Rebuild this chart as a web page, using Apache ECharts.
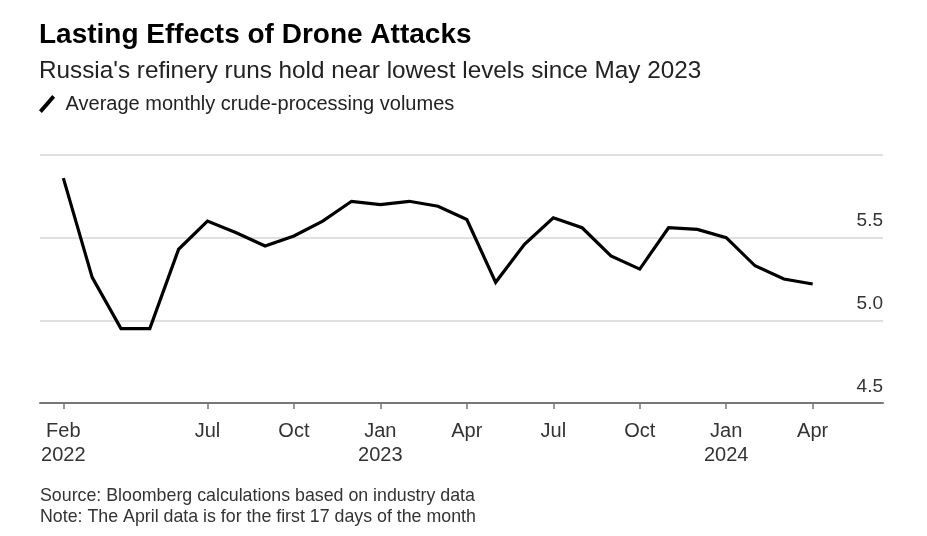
<!DOCTYPE html>
<html>
<head>
<meta charset="utf-8">
<script src="https://cdn.jsdelivr.net/npm/echarts@6/dist/echarts.min.js"></script>
<style>
html,body{margin:0;padding:0;background:#fff;}
#chart{width:927px;height:536px;}
</style>
</head>
<body>
<div id="chart"></div>
<script>
// Months from Feb 2022 (index 0) to Apr 2024 (index 26)
const months = ["2022-02","2022-03","2022-04","2022-05","2022-06","2022-07","2022-08","2022-09","2022-10","2022-11","2022-12",
  "2023-01","2023-02","2023-03","2023-04","2023-05","2023-06","2023-07","2023-08","2023-09","2023-10","2023-11","2023-12",
  "2024-01","2024-02","2024-03","2024-04"];
const runs = [5.86,5.26,4.95,4.95,5.43,5.60,5.53,5.45,5.51,5.60,5.72,
  5.70,5.72,5.69,5.61,5.23,5.46,5.62,5.56,5.39,5.31,5.56,5.55,
  5.50,5.33,5.25,5.22];
const tickIndex = [0,5,8,11,14,17,20,23,26];
const tickLabels = ["Feb\n2022","Jul","Oct","Jan\n2023","Apr","Jul","Oct","Jan\n2024","Apr"];
const yTicks = [4.5,5.0,5.5,6.0];
const yLabels = ["4.5","5.0","5.5",""];

const seriesData = runs.map((v,i)=>[i,v]);
const font = "Liberation Sans, Arial, sans-serif";

const chart = echarts.init(document.getElementById('chart'), null, {renderer:'canvas'});
chart.setOption({
  animation:false,
  backgroundColor:'#fff',
  title:[
    {text:'Lasting Effects of Drone Attacks', left:39, top:21, padding:0,
     textStyle:{fontFamily:font, fontSize:28, fontWeight:'bold', color:'#000'}},
    {text:"Russia's refinery runs hold near lowest levels since May 2023", left:39, top:59, padding:0,
     textStyle:{fontFamily:font, fontSize:24.3, fontWeight:'normal', color:'#222'}},
    {text:'Source: Bloomberg calculations based on industry data', left:40, top:487, padding:0,
     textStyle:{fontFamily:font, fontSize:17.8, fontWeight:'normal', color:'#333'}},
    {text:'Note: The April data is for the first 17 days of the month', left:40, top:508, padding:0,
     textStyle:{fontFamily:font, fontSize:17.8, fontWeight:'normal', color:'#333'}}
  ],
  legend:{
    left:34, top:89, itemWidth:21, itemHeight:18, itemGap:9,
    icon:'path://M0,16 L14,0 L17,3 L3,19 Z',
    textStyle:{fontFamily:font, fontSize:20, color:'#222', padding:[0,0,0,3]},
    data:[{name:'Average monthly crude-processing volumes', itemStyle:{color:'#000'}}]
  },
  grid:{left:40, right:44, top:155, bottom:133, containLabel:false},
  xAxis:{
    type:'value', min:-0.81, max:28.44,
    axisLine:{show:true, lineStyle:{color:'#777', width:2}},
    axisTick:{show:true, customValues:tickIndex, length:6, lineStyle:{color:'#777', width:1.5}},
    axisLabel:{
      customValues:tickIndex,
      formatter:(v)=>{const k=tickIndex.indexOf(Math.round(v)); return k>=0?tickLabels[k]:'';},
      fontFamily:font, fontSize:20, color:'#333', lineHeight:24, margin:16
    },
    splitLine:{show:false}
  },
  yAxis:{
    type:'value', position:'right', min:4.5, max:6.0, interval:0.5,
    axisLine:{show:false}, axisTick:{show:false},
    axisLabel:{
      inside:true, margin:0,
      formatter:(v)=>{const k=yTicks.findIndex(t=>Math.abs(t-v)<1e-6); return k>=0?yLabels[k]:'';},
      fontFamily:font, fontSize:19, color:'#333', verticalAlign:'bottom', padding:[0,0,7,0]
    },
    splitLine:{show:true, lineStyle:{color:'#e0e0e0', width:2}}
  },
  series:[{
    name:'Average monthly crude-processing volumes',
    type:'line', data:seriesData, symbol:'none',
    lineStyle:{color:'#000', width:3.2, join:'miter'},
    itemStyle:{color:'#000'}
  }]
});
</script>
</body>
</html>
